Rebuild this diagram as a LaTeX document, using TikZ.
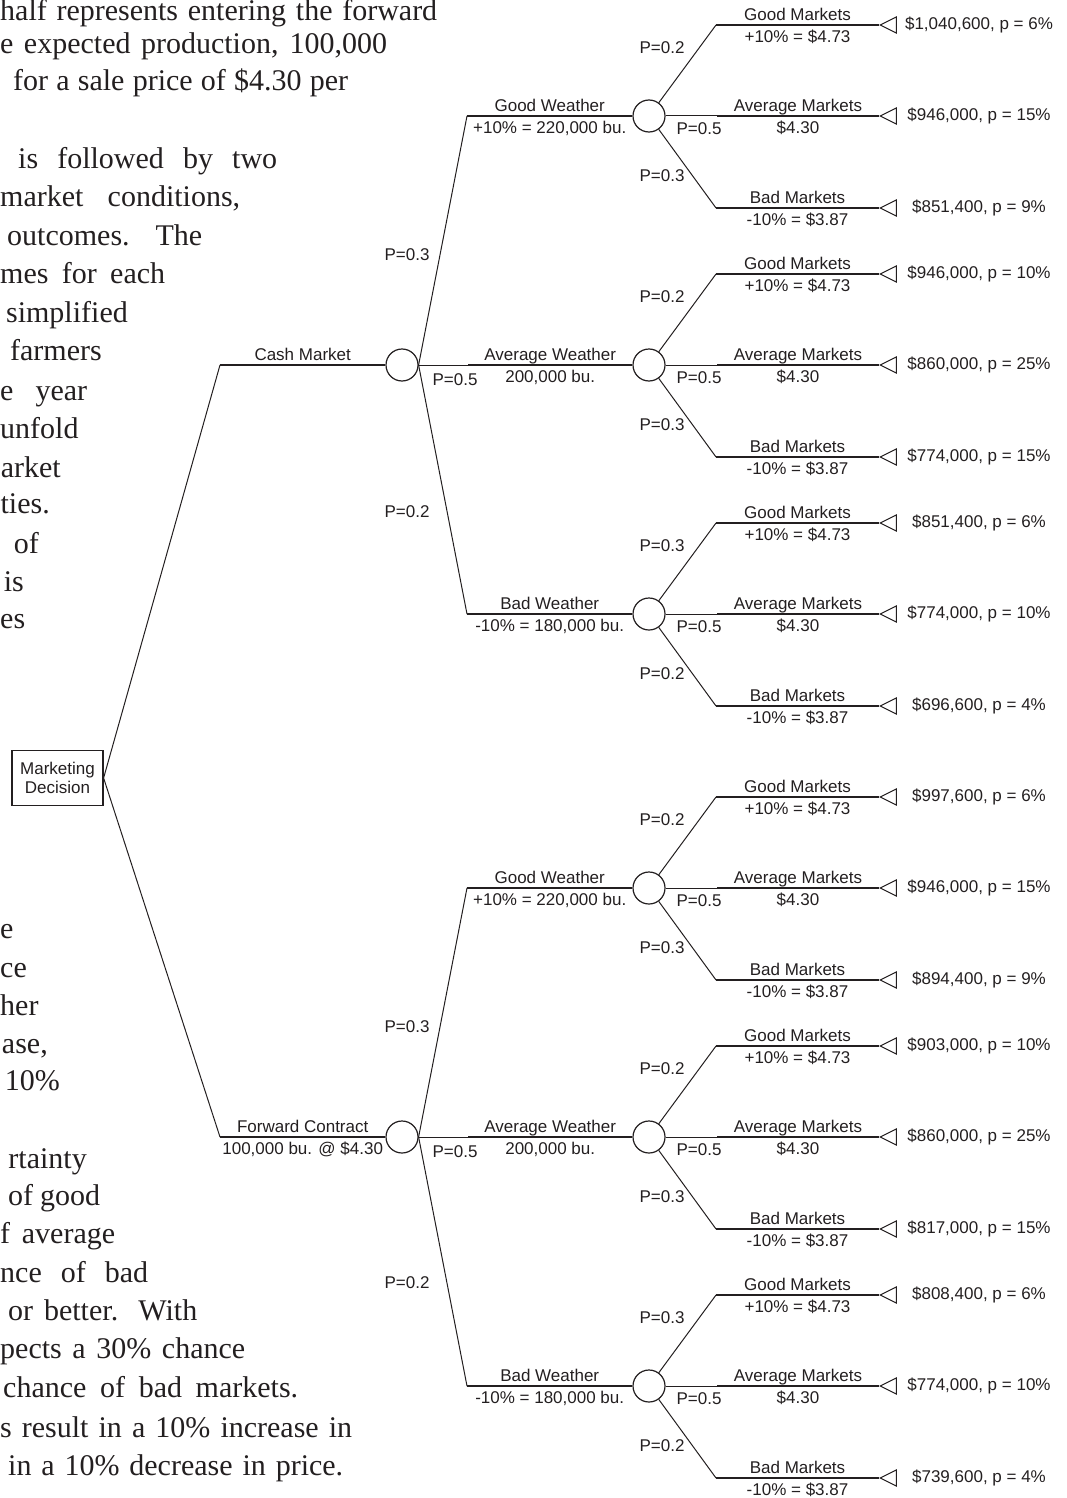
\documentclass[tikz,border=0pt]{standalone}
\usepackage{fontspec}
\setmainfont{Liberation Serif}
\newfontfamily\arialfont{Liberation Sans}
\usetikzlibrary{shapes.geometric}
\definecolor{ink}{HTML}{231F20}

\begin{document}
\begin{tikzpicture}[x=1pt, y=-1pt,
		body/.style={font=\fontsize{30}{36}\selectfont, text=ink, inner sep=0pt},
		lbl/.style={font=\arialfont\fontsize{17}{19}\selectfont, text=ink},
		decbox/.style={lbl, draw=ink, line width=1.2pt, align=center, minimum width=91pt, minimum height=55pt, inner sep=1pt},
		chance/.style={draw=ink, circle, line width=1.2pt, minimum size=32pt, inner sep=0pt},
		leaf/.style={draw=ink, isosceles triangle, isosceles triangle stretches, shape border rotate=180, minimum width=16pt, minimum height=16pt, inner sep=0pt, line width=1pt},
		lblup/.style={lbl, above, inner sep=3.5pt, text depth=0pt},
		lbldown/.style={lbl, below, inner sep=4pt},
		prob/.style={lbl, inner sep=0pt},
		payoff/.style={lbl, inner sep=0pt},
		thinline/.style={draw=ink, line width=1pt},
		thickline/.style={draw=ink, line width=2pt}
		]
		
		\useasboundingbox (0,0) rectangle (1066,1498);
		
		% Text beside the tree
		\node[body, anchor=base west] (b0) at (0,21) {\makebox[437pt][s]{half represents entering the forward}};
		\node[body, anchor=base west] (b1) at (0,54) {\makebox[387pt][s]{e expected production, 100,000}};
		\node[body, anchor=base west] (b2) at (13,91) {\makebox[335pt][s]{for a sale price of \$4.30 per}};
		\node[body, anchor=base west] (b3) at (18,168) {\makebox[259pt][s]{is followed by two}};
		\node[body, anchor=base west] (b4) at (0,207) {\makebox[240pt][s]{market conditions,}};
		\node[body, anchor=base west] (b5) at (7,245) {\makebox[195pt][s]{outcomes. The}};
		\node[body, anchor=base west] (b6) at (0,283) {\makebox[165pt][s]{mes for each}};
		\node[body, anchor=base east] (b7) at (128,322) {simplified};
		\node[body, anchor=base east] (b8) at (102,360) {farmers};
		\node[body, anchor=base west] (b9) at (0,400) {\makebox[87pt][s]{e year}};
		\node[body, anchor=base west] (b10) at (0,438) {unfold};
		\node[body, anchor=base east] (b11) at (61,477) {arket};
		\node[body, anchor=base east] (b12) at (50,513) {ties.};
		\node[body, anchor=base east] (b13) at (39,553) {of};
		\node[body, anchor=base east] (b14) at (24,591) {is};
		\node[body, anchor=base west] (b15) at (0,628) {es};
		\node[body, anchor=base west] (b16) at (0,938) {e};
		\node[body, anchor=base west] (b17) at (0,977) {ce};
		\node[body, anchor=base west] (b18) at (0,1015) {her};
		\node[body, anchor=base east] (b19) at (48,1053) {ase,};
		\node[body, anchor=base east] (b20) at (60,1090) {10\%};
		\node[body, anchor=base east] (b21) at (87,1168) {rtainty};
		\node[body, anchor=base west] (b22) at (8,1205) {\makebox[92pt][s]{of good}};
		\node[body, anchor=base west] (b23) at (0,1243) {\makebox[115pt][s]{f average}};
		\node[body, anchor=base west] (b24) at (0,1282) {\makebox[148pt][s]{nce of bad}};
		\node[body, anchor=base west] (b25) at (8,1320) {\makebox[189pt][s]{or better. With}};
		\node[body, anchor=base west] (b26) at (0,1358) {\makebox[245pt][s]{pects a 30\% chance}};
		\node[body, anchor=base west] (b27) at (3,1397) {\makebox[295pt][s]{chance of bad markets.}};
		\node[body, anchor=base west] (b28) at (0,1437) {\makebox[352pt][s]{s result in a 10\% increase in}};
		\node[body, anchor=base west] (b29) at (8,1475) {\makebox[335pt][s]{in a 10\% decrease in price.}};
		
		% Decision
		\node[decbox] (dec) at (57.5,778) {Marketing\\Decision};
		
		% Cash market / forward contract
		\coordinate (cashL) at (220,365);
		\coordinate (fwdL) at (220,1137);
		\node[chance] (cash) at (402,365) {};
		\node[chance] (fwd) at (402,1137) {};
		\node[prob] (cashp1) at (407,255) {P=0.3};
		\node[prob] (cashp2) at (455,380) {P=0.5};
		\node[prob] (cashp3) at (407,512) {P=0.2};
		\node[prob] (fwdp1) at (407,1027) {P=0.3};
		\node[prob] (fwdp2) at (455,1152) {P=0.5};
		\node[prob] (fwdp3) at (407,1283) {P=0.2};
		
		% Weather
		\coordinate (cgwL) at (467,116);
		\coordinate (cawL) at (468,365);
		\coordinate (cbwL) at (467,614);
		\coordinate (fgwL) at (467,888);
		\coordinate (fawL) at (468,1137);
		\coordinate (fbwL) at (467,1386);
		\node[chance] (cgw) at (649,116) {};
		\node[chance] (caw) at (649,365) {};
		\node[chance] (cbw) at (649,614) {};
		\node[chance] (fgw) at (649,888) {};
		\node[chance] (faw) at (649,1137) {};
		\node[chance] (fbw) at (649,1386) {};
		
		% Markets after cash / good weather
		\coordinate (cgw1) at (716,25);
		\coordinate (cgw2) at (717,116);
		\coordinate (cgw3) at (716,208);
		\node[leaf, anchor=apex] (cgwt1) at (879,25) {};
		\node[leaf, anchor=apex] (cgwt2) at (879,116) {};
		\node[leaf, anchor=apex] (cgwt3) at (879,208) {};
		\node[payoff] (cgwv1) at (979,25) {\$1,040,600, p = 6\%};
		\node[payoff] (cgwv2) at (979,116) {\$946,000, p = 15\%};
		\node[payoff] (cgwv3) at (979,208) {\$851,400, p = 9\%};
		\node[prob] (cgwp1) at (662,48) {P=0.2};
		\node[prob] (cgwp2) at (699,129) {P=0.5};
		\node[prob] (cgwp3) at (662,176) {P=0.3};
		
		% Markets after cash / average weather
		\coordinate (caw1) at (716,274);
		\coordinate (caw2) at (717,365);
		\coordinate (caw3) at (716,457);
		\node[leaf, anchor=apex] (cawt1) at (879,274) {};
		\node[leaf, anchor=apex] (cawt2) at (879,365) {};
		\node[leaf, anchor=apex] (cawt3) at (879,457) {};
		\node[payoff] (cawv1) at (979,274) {\$946,000, p = 10\%};
		\node[payoff] (cawv2) at (979,365) {\$860,000, p = 25\%};
		\node[payoff] (cawv3) at (979,457) {\$774,000, p = 15\%};
		\node[prob] (cawp1) at (662,297) {P=0.2};
		\node[prob] (cawp2) at (699,378) {P=0.5};
		\node[prob] (cawp3) at (662,425) {P=0.3};
		
		% Markets after cash / bad weather
		\coordinate (cbw1) at (716,523);
		\coordinate (cbw2) at (717,614);
		\coordinate (cbw3) at (716,706);
		\node[leaf, anchor=apex] (cbwt1) at (879,523) {};
		\node[leaf, anchor=apex] (cbwt2) at (879,614) {};
		\node[leaf, anchor=apex] (cbwt3) at (879,706) {};
		\node[payoff] (cbwv1) at (979,523) {\$851,400, p = 6\%};
		\node[payoff] (cbwv2) at (979,614) {\$774,000, p = 10\%};
		\node[payoff] (cbwv3) at (979,706) {\$696,600, p = 4\%};
		\node[prob] (cbwp1) at (662,546) {P=0.3};
		\node[prob] (cbwp2) at (699,627) {P=0.5};
		\node[prob] (cbwp3) at (662,674) {P=0.2};
		
		% Markets after forward / good weather
		\coordinate (fgw1) at (716,797);
		\coordinate (fgw2) at (717,888);
		\coordinate (fgw3) at (716,980);
		\node[leaf, anchor=apex] (fgwt1) at (879,797) {};
		\node[leaf, anchor=apex] (fgwt2) at (879,888) {};
		\node[leaf, anchor=apex] (fgwt3) at (879,980) {};
		\node[payoff] (fgwv1) at (979,797) {\$997,600, p = 6\%};
		\node[payoff] (fgwv2) at (979,888) {\$946,000, p = 15\%};
		\node[payoff] (fgwv3) at (979,980) {\$894,400, p = 9\%};
		\node[prob] (fgwp1) at (662,820) {P=0.2};
		\node[prob] (fgwp2) at (699,901) {P=0.5};
		\node[prob] (fgwp3) at (662,948) {P=0.3};
		
		% Markets after forward / average weather
		\coordinate (faw1) at (716,1046);
		\coordinate (faw2) at (717,1137);
		\coordinate (faw3) at (716,1229);
		\node[leaf, anchor=apex] (fawt1) at (879,1046) {};
		\node[leaf, anchor=apex] (fawt2) at (879,1137) {};
		\node[leaf, anchor=apex] (fawt3) at (879,1229) {};
		\node[payoff] (fawv1) at (979,1046) {\$903,000, p = 10\%};
		\node[payoff] (fawv2) at (979,1137) {\$860,000, p = 25\%};
		\node[payoff] (fawv3) at (979,1229) {\$817,000, p = 15\%};
		\node[prob] (fawp1) at (662,1069) {P=0.2};
		\node[prob] (fawp2) at (699,1150) {P=0.5};
		\node[prob] (fawp3) at (662,1197) {P=0.3};
		
		% Markets after forward / bad weather
		\coordinate (fbw1) at (716,1295);
		\coordinate (fbw2) at (717,1386);
		\coordinate (fbw3) at (716,1478);
		\node[leaf, anchor=apex] (fbwt1) at (879,1295) {};
		\node[leaf, anchor=apex] (fbwt2) at (879,1386) {};
		\node[leaf, anchor=apex] (fbwt3) at (879,1478) {};
		\node[payoff] (fbwv1) at (979,1295) {\$808,400, p = 6\%};
		\node[payoff] (fbwv2) at (979,1386) {\$774,000, p = 10\%};
		\node[payoff] (fbwv3) at (979,1478) {\$739,600, p = 4\%};
		\node[prob] (fbwp1) at (662,1318) {P=0.3};
		\node[prob] (fbwp2) at (699,1399) {P=0.5};
		\node[prob] (fbwp3) at (662,1446) {P=0.2};
		
		% Lines: decision
		\draw[thinline] (dec.east) -- (cashL);
		\draw[thinline] (dec.east) -- (fwdL);
		\draw[thickline] (cashL) -- node[lblup]{Cash Market} (cash);
		\draw[thickline] (fwdL) -- node[lblup]{Forward Contract} node[lbldown]{100,000 bu. @ \$4.30} (fwd);
		
		% Lines: weather
		\draw[thinline] (cash.east) -- (cgwL);
		\draw[thinline] (cash.east) -- (cawL);
		\draw[thinline] (cash.east) -- (cbwL);
		\draw[thinline] (fwd.east) -- (fgwL);
		\draw[thinline] (fwd.east) -- (fawL);
		\draw[thinline] (fwd.east) -- (fbwL);
		\draw[thickline] (cgwL) -- node[lblup]{Good Weather} node[lbldown]{+10\% = 220,000 bu.} (cgw);
		\draw[thickline] (cawL) -- node[lblup]{Average Weather} node[lbldown]{200,000 bu.} (caw);
		\draw[thickline] (cbwL) -- node[lblup]{Bad Weather} node[lbldown]{-10\% = 180,000 bu.} (cbw);
		\draw[thickline] (fgwL) -- node[lblup]{Good Weather} node[lbldown]{+10\% = 220,000 bu.} (fgw);
		\draw[thickline] (fawL) -- node[lblup]{Average Weather} node[lbldown]{200,000 bu.} (faw);
		\draw[thickline] (fbwL) -- node[lblup]{Bad Weather} node[lbldown]{-10\% = 180,000 bu.} (fbw);
		
		% Lines: markets
		\draw[thinline] (cgw) -- (cgw1);
		\draw[thinline] (cgw) -- (cgw2);
		\draw[thinline] (cgw) -- (cgw3);
		\draw[thickline] (cgw1) -- node[lblup]{Good Markets} node[lbldown]{+10\% = \$4.73} (cgwt1.apex);
		\draw[thickline] (cgw2) -- node[lblup]{Average Markets} node[lbldown]{\$4.30} (cgwt2.apex);
		\draw[thickline] (cgw3) -- node[lblup]{Bad Markets} node[lbldown]{-10\% = \$3.87} (cgwt3.apex);
		
		\draw[thinline] (caw) -- (caw1);
		\draw[thinline] (caw) -- (caw2);
		\draw[thinline] (caw) -- (caw3);
		\draw[thickline] (caw1) -- node[lblup]{Good Markets} node[lbldown]{+10\% = \$4.73} (cawt1.apex);
		\draw[thickline] (caw2) -- node[lblup]{Average Markets} node[lbldown]{\$4.30} (cawt2.apex);
		\draw[thickline] (caw3) -- node[lblup]{Bad Markets} node[lbldown]{-10\% = \$3.87} (cawt3.apex);
		
		\draw[thinline] (cbw) -- (cbw1);
		\draw[thinline] (cbw) -- (cbw2);
		\draw[thinline] (cbw) -- (cbw3);
		\draw[thickline] (cbw1) -- node[lblup]{Good Markets} node[lbldown]{+10\% = \$4.73} (cbwt1.apex);
		\draw[thickline] (cbw2) -- node[lblup]{Average Markets} node[lbldown]{\$4.30} (cbwt2.apex);
		\draw[thickline] (cbw3) -- node[lblup]{Bad Markets} node[lbldown]{-10\% = \$3.87} (cbwt3.apex);
		
		\draw[thinline] (fgw) -- (fgw1);
		\draw[thinline] (fgw) -- (fgw2);
		\draw[thinline] (fgw) -- (fgw3);
		\draw[thickline] (fgw1) -- node[lblup]{Good Markets} node[lbldown]{+10\% = \$4.73} (fgwt1.apex);
		\draw[thickline] (fgw2) -- node[lblup]{Average Markets} node[lbldown]{\$4.30} (fgwt2.apex);
		\draw[thickline] (fgw3) -- node[lblup]{Bad Markets} node[lbldown]{-10\% = \$3.87} (fgwt3.apex);
		
		\draw[thinline] (faw) -- (faw1);
		\draw[thinline] (faw) -- (faw2);
		\draw[thinline] (faw) -- (faw3);
		\draw[thickline] (faw1) -- node[lblup]{Good Markets} node[lbldown]{+10\% = \$4.73} (fawt1.apex);
		\draw[thickline] (faw2) -- node[lblup]{Average Markets} node[lbldown]{\$4.30} (fawt2.apex);
		\draw[thickline] (faw3) -- node[lblup]{Bad Markets} node[lbldown]{-10\% = \$3.87} (fawt3.apex);
		
		\draw[thinline] (fbw) -- (fbw1);
		\draw[thinline] (fbw) -- (fbw2);
		\draw[thinline] (fbw) -- (fbw3);
		\draw[thickline] (fbw1) -- node[lblup]{Good Markets} node[lbldown]{+10\% = \$4.73} (fbwt1.apex);
		\draw[thickline] (fbw2) -- node[lblup]{Average Markets} node[lbldown]{\$4.30} (fbwt2.apex);
		\draw[thickline] (fbw3) -- node[lblup]{Bad Markets} node[lbldown]{-10\% = \$3.87} (fbwt3.apex);
		
	\end{tikzpicture}
\end{document}
